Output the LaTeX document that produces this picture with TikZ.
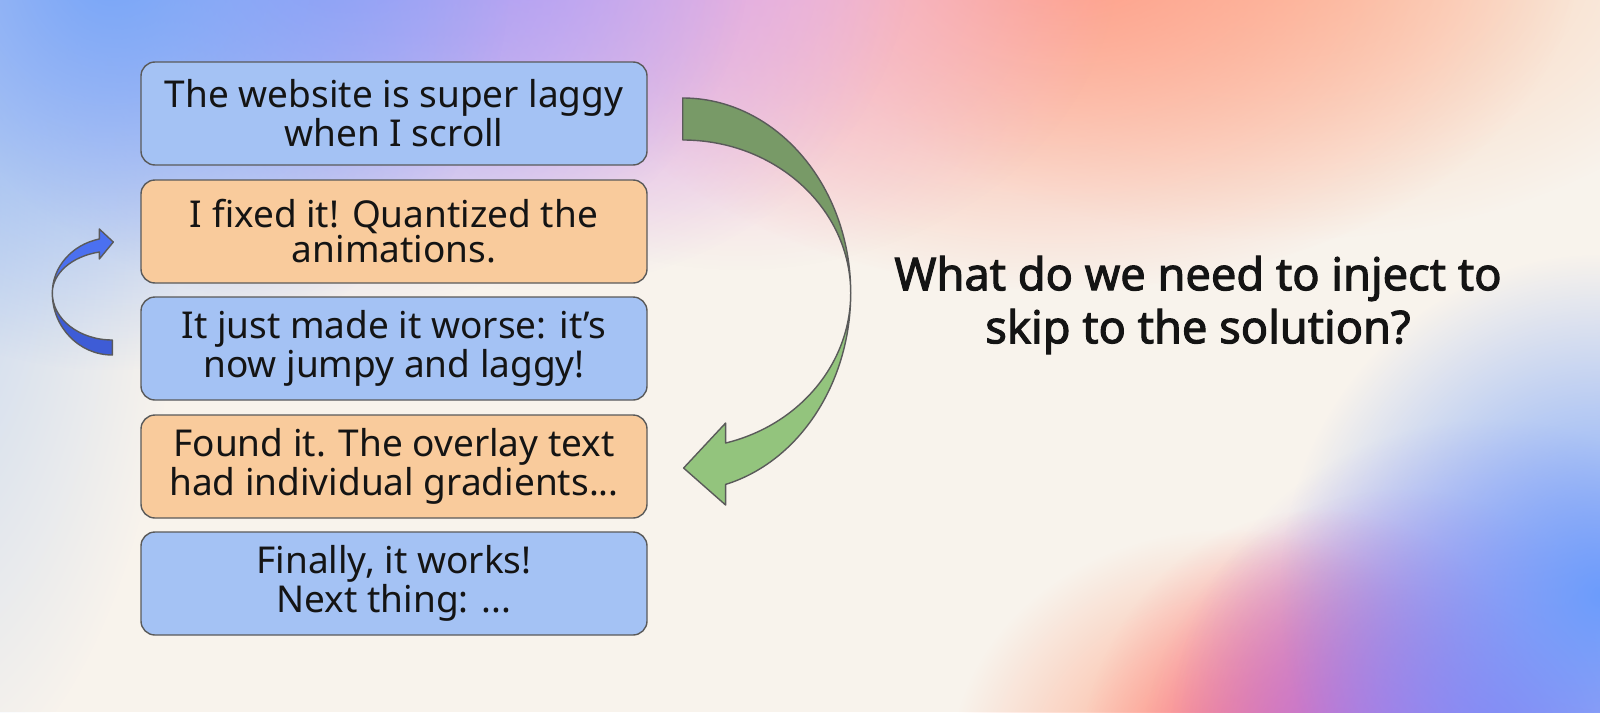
\documentclass[tikz,border=0pt]{standalone}
\usepackage{fontspec}
\setmainfont{Noto Sans}
\newfontfamily\askfont{Noto Sans}[FakeBold=2.2]
\usetikzlibrary{calc,fadings}

\tikzfading[name=blobfade, inner color=transparent!0, outer color=transparent!100]

\definecolor{bgcream}{HTML}{F8F3EC}
\definecolor{ink}{HTML}{141414}
\definecolor{boxline}{HTML}{5A5A5A}
\definecolor{msgblue}{HTML}{A4C2F4}
\definecolor{msgorange}{HTML}{F9CB9C}
\definecolor{jumpdark}{HTML}{789A67}
\definecolor{jumplight}{HTML}{93C47D}
\definecolor{backtop}{HTML}{4B70F0}
\definecolor{backlow}{HTML}{3E5CD6}

\begin{document}
\begin{tikzpicture}[x=0.5pt,y=-0.5pt]
	\tikzstyle{every node}+=[inner sep=0pt]
	\tikzstyle{blob}=[path fading=blobfade]
	\tikzstyle{msgbox}=[draw=boxline, line width=0.7pt, rounded corners=7pt, minimum width=253pt, minimum height=51.5pt, align=center, text=ink, font=\fontsize{18.5}{17.6}\selectfont]
	\tikzstyle{shapeline}=[draw=boxline, line width=0.7pt, line join=round]
	\useasboundingbox (0,0) rectangle (1600,712);
	% background
	\begin{scope}
		\clip (0,0) rectangle (1600,712);
		\fill[bgcream] (0,0) rectangle (1600,712);
		\fill[blob, color={rgb,255:red,196;green,214;blue,240}] (-80,200) ellipse [x radius=260, y radius=600];
		\fill[blob, color={rgb,255:red,252;green,206;blue,176}] (1280,-40) ellipse [x radius=480, y radius=280];
		\fill[blob, color={rgb,255:red,255;green,156;blue,134}] (1060,-50) ellipse [x radius=520, y radius=340];
		\fill[blob, color={rgb,255:red,242;green,180;blue,216}] (740,-50) ellipse [x radius=380, y radius=320];
		\fill[blob, color={rgb,255:red,210;green,168;blue,240}] (530,-50) ellipse [x radius=380, y radius=340];
		\fill[blob, color={rgb,255:red,156;green,156;blue,246}] (330,-50) ellipse [x radius=420, y radius=360];
		\fill[blob, color={rgb,255:red,120;green,166;blue,248}] (110,-30) ellipse [x radius=400, y radius=400];
		\fill[blob, color={rgb,255:red,255;green,160;blue,128}] (1230,770) ellipse [x radius=280, y radius=240];
		\fill[blob, color={rgb,255:red,255;green,111;blue,128}] (1320,770) ellipse [x radius=240, y radius=260];
		\fill[blob, color={rgb,255:red,222;green,111;blue,203}] (1400,770) ellipse [x radius=260, y radius=280];
		\fill[blob, color={rgb,255:red,154;green,126;blue,242}] (1490,740) ellipse [x radius=320, y radius=320];
		\fill[blob, color={rgb,255:red,108;green,156;blue,252}] (1600,595) ellipse [x radius=320, y radius=340];
	\end{scope}
	% messages
	\node[msgbox, fill=msgblue] (b1) at (394,113.5) {The website is super laggy\\when I scroll};
	\node[msgbox, fill=msgorange] (b2) at (394,231.5) {I fixed it! Quantized the\\animations.};
	\node[msgbox, fill=msgblue] (b3) at (394,348.5) {It just made it worse: it’s\\now jumpy and laggy!};
	\node[msgbox, fill=msgorange] (b4) at (394,466.5) {Found it. The overlay text\\had individual gradients...};
	\node[msgbox, fill=msgblue] (b5) at (394,583.5) {Finally, it works!\\Next thing: ...};
	\node[text=ink, align=center, font=\fontsize{22.6}{26.5}\askfont] (ask) at (1198,305) {What do we need to inject to\\skip to the solution?};
	% green jump from b1 to b4
	\coordinate (gtop) at ($(b1.east)+(35,-15.5)$);
	\filldraw[shapeline, fill=jumpdark] (gtop) arc[start angle=-90, end angle=0, x radius=168, y radius=195] coordinate (gmid)
		arc[start angle=0, end angle=-90, x radius=168, y radius=153] -- cycle;
	\filldraw[shapeline, fill=jumplight] (gmid) arc[start angle=0, end angle=75.2, x radius=168, y radius=198]
		-- ++(0,20.6) -- ++(-42,-37) coordinate (gtip) -- ++(42,-45) -- ++(0,20)
		arc[start angle=75.2, end angle=0, x radius=168, y radius=155] -- cycle;
	% blue step back from b3 to b2
	\coordinate (btail) at ($(b3.west)+(-28,6.5)$);
	\filldraw[shapeline, fill=backlow] (btail) arc[start angle=90, end angle=180, x radius=60, y radius=62] coordinate (bmid)
		arc[start angle=180, end angle=90, x radius=60, y radius=47] -- cycle;
	\filldraw[shapeline, fill=backtop] (bmid) arc[start angle=180, end angle=257.5, x radius=60, y radius=55.3]
		-- ++(0,-10) -- ++(14,13) coordinate (btip) -- ++(-14,17) -- ++(0,-7)
		arc[start angle=257.5, end angle=180, x radius=60, y radius=42] -- cycle;
\end{tikzpicture}
\end{document}
